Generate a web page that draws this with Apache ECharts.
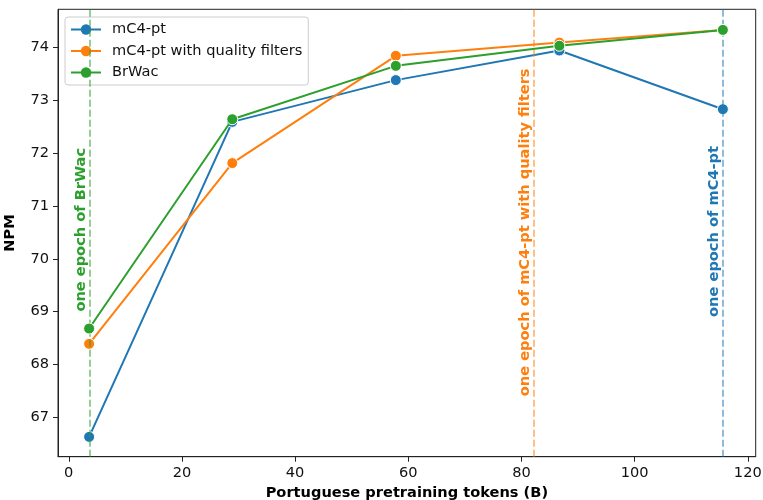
<!DOCTYPE html>
<html>
<head>
<meta charset="utf-8">
<script src="https://cdn.jsdelivr.net/npm/echarts@6/dist/echarts.min.js"></script>
<style>html,body{margin:0;padding:0;background:#fff}#c{width:763px;height:500px}</style>
</head>
<body>
<div id="c"></div>
<script>
const tokens = [3.6, 28.9, 57.8, 86.7, 115.6];
const mc4pt = [66.63, 72.59, 73.38, 73.94, 72.83];
const mc4ptQF = [68.39, 71.81, 73.84, 74.09, 74.33];
const brwac = [68.68, 72.64, 73.65, 74.03, 74.33];
const seriesNames = ['mC4-pt', 'mC4-pt with quality filters', 'BrWac'];
const colors = ['#1f77b4', '#ff7f0e', '#2ca02c'];
const epochX = [115.6, 82.2, 3.7];          // blue, orange, green
const epochLabels = ['one epoch of mC4-pt', 'one epoch of mC4-pt with quality filters', 'one epoch of BrWac'];
const epochLabelY = [68.9, 67.4, 69.0];
const xTicks = [0, 20, 40, 60, 80, 100, 120];
const yTicks = [67, 68, 69, 70, 71, 72, 73, 74];

const font = 'DejaVu Sans';
const fs = 14.6;
const chart = echarts.init(document.getElementById('c'), null, {renderer: 'canvas'});
const allY = [mc4pt, mc4ptQF, brwac];

const series = seriesNames.map((n, i) => ({
  name: n,
  type: 'line',
  data: tokens.map((x, j) => [x, allY[i][j]]),
  symbol: 'circle',
  symbolSize: 11,
  lineStyle: {color: colors[i], width: 2},
  itemStyle: {color: colors[i], borderColor: '#fff', borderWidth: 1},
  z: 3 + i,
  animation: false,
  markLine: {
    silent: true,
    symbol: 'none',
    label: {show: false},
    lineStyle: {color: colors[i], opacity: 0.5, type: [7, 3], width: 2},
    data: [{xAxis: epochX[i]}],
    animation: false
  }
}));

series.push({
  type: 'scatter',
  symbolSize: 0,
  silent: true,
  animation: false,
  z: 10,
  itemStyle: {opacity: 1},
  data: epochX.map((x, i) => ({
    value: [x, epochLabelY[i]],
    label: {
      show: true,
      formatter: epochLabels[i],
      position: [-1, 0],
      align: 'left',
      verticalAlign: 'bottom',
      rotate: 90,
      color: colors[i],
      opacity: 1,
      textBorderWidth: 0,
      fontFamily: font,
      fontWeight: 'bold',
      fontSize: fs
    }
  }))
});

chart.setOption({
  animation: false,
  grid: {left: 58, right: 7.3, top: 9.3, bottom: 43.3, outerBoundsMode: 'none', containLabel: false,
         show: true, borderColor: '#222', borderWidth: 1, backgroundColor: 'transparent'},
  legend: {
    orient: 'vertical',
    left: 65, top: 17,
    data: seriesNames,
    itemWidth: 30, itemHeight: 13,
    itemGap: 6.5,
    padding: [5, 6, 5, 5],
    borderColor: '#ccc', borderWidth: 1, borderRadius: 3,
    backgroundColor: 'rgba(255,255,255,0.8)',
    itemStyle: {borderWidth: 0},
    textStyle: {fontFamily: font, fontSize: fs, color: '#111', padding: [0, 0, 0, 6]}
  },
  xAxis: {
    type: 'value', min: -1.9, max: 121.4,
    name: 'Portuguese pretraining tokens (B)',
    nameLocation: 'middle', nameGap: 29,
    nameTextStyle: {fontFamily: font, fontWeight: 'bold', fontSize: fs, color: '#000'},
    axisLine: {show: true, onZero: false, lineStyle: {color: '#222', width: 1}},
    axisTick: {show: true, length: 5, lineStyle: {color: '#222'}, customValues: xTicks},
    axisLabel: {fontFamily: font, fontSize: fs, color: '#111', margin: 9, customValues: xTicks},
    splitLine: {show: false}
  },
  yAxis: {
    type: 'value', min: 66.255, max: 74.72,
    name: 'NPM',
    nameLocation: 'middle', nameGap: 40,
    nameTextStyle: {fontFamily: font, fontWeight: 'bold', fontSize: fs, color: '#000'},
    axisLine: {show: true, onZero: false, lineStyle: {color: '#222', width: 1}},
    axisTick: {show: true, length: 5, lineStyle: {color: '#222'}, customValues: yTicks},
    axisLabel: {fontFamily: font, fontSize: fs, color: '#111', margin: 9, customValues: yTicks},
    splitLine: {show: false}
  },
  series: series
});
</script>
</body>
</html>
